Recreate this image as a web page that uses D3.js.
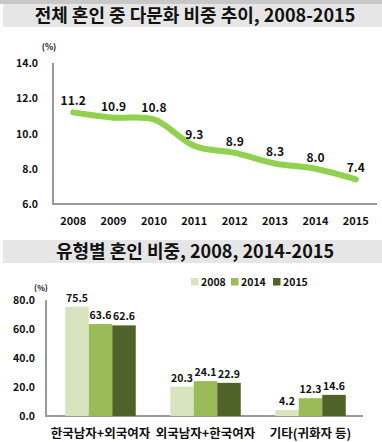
<!DOCTYPE html>
<html><head><meta charset="utf-8">
<script src="https://cdn.jsdelivr.net/npm/d3@7"></script>
<style>
html,body{margin:0;padding:0;background:#fff;}
svg{display:block;}
text{font-family:"Noto Sans CJK KR","Noto Sans",sans-serif;}
</style></head>
<body>
<svg id="c" width="382" height="442"></svg>
<script>
// Chart 1 data
const title1 = "전체 혼인 중 다문화 비중 추이, 2008-2015";
const years = ["2008","2009","2010","2011","2012","2013","2014","2015"];
const multiShare = [11.2, 10.9, 10.8, 9.3, 8.9, 8.3, 8.0, 7.4];
const yTicks1 = [6, 8, 10, 12, 14];

// Chart 2 data
const title2 = "유형별 혼인 비중, 2008, 2014-2015";
const types = ["한국남자+외국여자", "외국남자+한국여자", "기타(귀화자 등)"];
const seriesNames = ["2008", "2014", "2015"];
const s2008 = [75.5, 20.3, 4.2];
const s2014 = [63.6, 24.1, 12.3];
const s2015 = [62.6, 22.9, 14.6];
const yTicks2 = [0, 20, 40, 60, 80];
const colors2 = ["#d7e4bd", "#9bbb59", "#4f6228"];

const svg = d3.select("#c");
const numFont = "'DejaVu Sans', sans-serif";

// Title bands
svg.append("rect").attr("x",0).attr("y",0).attr("width",382).attr("height",4).attr("fill","#c8c8c8");
svg.append("rect").attr("x",3).attr("y",4).attr("width",379).attr("height",23).attr("fill","#e6e6e6");
svg.append("text").attr("x",195).attr("y",22).attr("text-anchor","middle")
  .attr("font-size",18).attr("font-weight","bold").attr("fill","#111").text(title1);

// ---------- Chart 1 ----------
const x1 = d3.scaleBand().domain(years).range([53, 376]);
const y1 = d3.scaleLinear().domain([6, 14]).range([204, 63]);

const ax1 = svg.append("g");
ax1.append("line").attr("x1",53).attr("x2",53).attr("y1",y1(14)).attr("y2",y1(6)+1)
  .attr("stroke","#999").attr("stroke-width",2);
ax1.append("line").attr("x1",52).attr("x2",377).attr("y1",y1(6)).attr("y2",y1(6))
  .attr("stroke","#999").attr("stroke-width",2);

svg.append("g").selectAll("text").data(yTicks1).join("text")
  .attr("x",38).attr("y",d=>y1(d)+4).attr("text-anchor","end")
  .attr("font-family",numFont).attr("font-size",10.5).attr("font-weight","bold").attr("fill","#111")
  .text(d=>d.toFixed(1));
svg.append("text").attr("x",49).attr("y",50).attr("text-anchor","middle")
  .attr("font-family",numFont).attr("font-size",8.5).attr("font-weight","bold").attr("fill","#111").text("(%)");

svg.append("g").selectAll("text").data(years).join("text")
  .attr("x",d=>x1(d)+x1.bandwidth()/2).attr("y",224.5).attr("text-anchor","middle")
  .attr("font-family",numFont).attr("font-size",11).attr("font-weight","bold").attr("fill","#111")
  .text(d=>d);

const line = d3.line().x((d,i)=>x1(years[i])+x1.bandwidth()/2).y(d=>y1(d)).curve(d3.curveCatmullRom.alpha(0.5));
svg.append("path").datum(multiShare).attr("d",line).attr("fill","none")
  .attr("stroke","#92d050").attr("stroke-width",6).attr("stroke-linecap","round").attr("stroke-linejoin","round");

svg.append("g").selectAll("text").data(multiShare).join("text")
  .attr("x",(d,i)=>x1(years[i])+x1.bandwidth()/2).attr("y",d=>y1(d)-7)
  .attr("text-anchor","middle")
  .attr("font-family",numFont).attr("font-size",12).attr("font-weight","bold").attr("fill","#111")
  .text(d=>d.toFixed(1));

// ---------- Chart 2 ----------
svg.append("rect").attr("x",3).attr("y",240).attr("width",379).attr("height",23).attr("fill","#e6e6e6");
svg.append("text").attr("x",195).attr("y",258).attr("text-anchor","middle")
  .attr("font-size",18).attr("font-weight","bold").attr("fill","#111").text(title2);

const x2 = d3.scaleBand().domain(types).range([48, 363]);
const xs = d3.scaleBand().domain(seriesNames).range([0, 70.5]);
const y2 = d3.scaleLinear().domain([0, 80]).range([416, 300.2]);

svg.append("line").attr("x1",46).attr("x2",46).attr("y1",y2(80)).attr("y2",y2(0)+1)
  .attr("stroke","#999").attr("stroke-width",2);
svg.append("line").attr("x1",45).attr("x2",363).attr("y1",y2(0)).attr("y2",y2(0))
  .attr("stroke","#999").attr("stroke-width",2);

svg.append("g").selectAll("text").data(yTicks2).join("text")
  .attr("x",35).attr("y",d=>y2(d)+4).attr("text-anchor","end")
  .attr("font-family",numFont).attr("font-size",10.5).attr("font-weight","bold").attr("fill","#111")
  .text(d=>d.toFixed(1));
svg.append("text").attr("x",41).attr("y",291).attr("text-anchor","middle")
  .attr("font-family",numFont).attr("font-size",8).attr("font-weight","bold").attr("fill","#111").text("(%)");

const seriesData = [s2008, s2014, s2015];
seriesNames.forEach((name, si) => {
  const g = svg.append("g");
  const vals = seriesData[si];
  g.selectAll("rect").data(vals).join("rect")
    .attr("x",(d,i)=>x2(types[i]) + x2.bandwidth()/2 - 35.25 + xs(name))
    .attr("y",d=>y2(d)).attr("width",xs.bandwidth()).attr("height",d=>y2(0)-y2(d))
    .attr("fill",colors2[si]);
  g.selectAll("text").data(vals).join("text")
    .attr("x",(d,i)=>x2(types[i]) + x2.bandwidth()/2 - 35.25 + xs(name) + xs.bandwidth()/2)
    .attr("y",d=>y2(d)-5).attr("text-anchor","middle")
    .attr("font-family",numFont).attr("font-size",10.5).attr("font-weight","bold").attr("fill","#111")
    .text(d=>d.toFixed(1));
});

svg.append("g").selectAll("text").data(types).join("text")
  .attr("x",d=>x2(d)+x2.bandwidth()/2).attr("y",437.5).attr("text-anchor","middle")
  .attr("font-size",12.5).attr("font-weight","bold").attr("fill","#111").text(d=>d);

// Legend
const legX = [191, 231, 273];
const lg = svg.append("g");
seriesNames.forEach((name, si) => {
  lg.append("rect").attr("x",legX[si]).attr("y",278).attr("width",7.5).attr("height",7.5).attr("fill",colors2[si]);
  lg.append("text").attr("x",legX[si]+10).attr("y",286).attr("font-family",numFont)
    .attr("font-size",10.5).attr("font-weight","bold").attr("fill","#111").text(name);
});
</script>
</body></html>
